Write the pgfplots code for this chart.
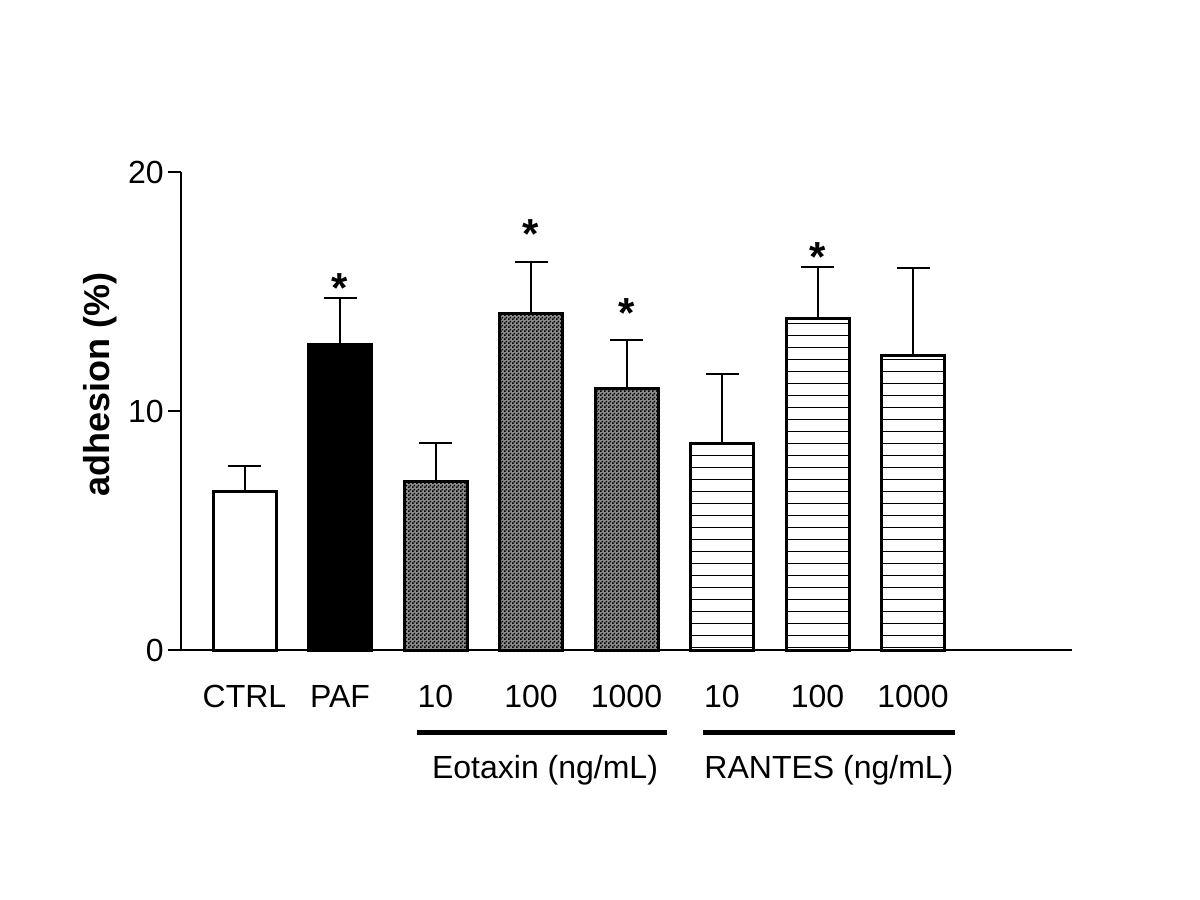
\documentclass[border=0pt]{standalone}
\usepackage{fontspec}
\setmainfont{Liberation Sans}
\usepackage{graphicx}
\usepackage{pgfplots}
\pgfplotsset{compat=1.18}
\usetikzlibrary{patterns,patterns.meta}
\tikzdeclarepattern{
  name=finecheck,
  bounding box={(0,0) and (2pt,2pt)},
  tile size={(2pt,2pt)},
  code={
    \fill (0,0) rectangle (1pt,1pt);
    \fill (1pt,1pt) rectangle (2pt,2pt);
  }
}
\begin{document}
\begin{tikzpicture}
\useasboundingbox (-90.5pt,-125pt) rectangle (509.5pt,325pt);
\begin{axis}[
  at={(0,0)}, anchor=south west,
  scale only axis, width=445.5pt, height=239pt,
  xmin=-0.665, xmax=8.665, ymin=0, ymax=20,
  axis lines*=left,
  axis line style={line width=1pt},
  clip=false,
  font=\fontsize{16}{19}\selectfont,
  /pgf/number format/assume math mode=true,
  xtick={0,1,2,3,4,5,6,7},
  xticklabels={CTRL,PAF,10,100,1000,10,100,1000},
  xtick style={draw=none},
  xticklabel style={anchor=north, inner sep=0pt, yshift=-11pt},
  ytick={0,10,20},
  tick align=outside,
  major tick length=6.5pt,
  ytick style={line width=1pt, black},
  yticklabel style={inner sep=2pt},
  ylabel={\fontsize{18}{21}\selectfont\bfseries adhesion (\%)},
  ylabel style={at={(axis description cs:-0.091,0.555)}, anchor=center, rotate=0},
  error bars/y dir=plus,
  error bars/y explicit,
  error bars/error bar style={line width=1pt, black},
  error bars/error mark options={rotate=90, mark size=8.25pt, line width=1pt, black},
]
% CTRL
\addplot[ybar, bar shift=0pt, bar width=31.5pt, draw=black, line width=1.5pt, fill=white]
  coordinates {(0,6.65) +- (0,1.05)};
% PAF
\addplot[ybar, bar shift=0pt, bar width=31.5pt, draw=black, line width=1.5pt, fill=black]
  coordinates {(1,12.80) +- (0,1.93)};
% Eotaxin
\addplot[ybar, bar shift=0pt, bar width=31.5pt, draw=black, line width=1.5pt, fill=black!45, postaction={pattern=finecheck}]
  coordinates {(2,7.07) +- (0,1.59) (3,14.06) +- (0,2.17) (4,10.96) +- (0,2.01)};
% RANTES
\addplot[ybar, bar shift=0pt, bar width=31.5pt, draw=black, line width=1.5pt, postaction={pattern={Lines[angle=0, distance=6pt, line width=0.5pt]}}, fill=white]
  coordinates {(5,8.62) +- (0,2.93) (6,13.85) +- (0,2.17) (7,12.34) +- (0,3.64)};
% significance stars
\addplot[draw=none, mark=none, nodes near coords, point meta=explicit symbolic,
  nodes near coords style={anchor=base, inner sep=0pt, yshift=-9.8pt, font=\fontsize{21}{21}\selectfont\bfseries}]
  coordinates {(1,15.36) [*] (3,17.62) [*] (4,14.31) [*] (6,16.65) [*]};
% group brackets
\draw[line width=2.5pt] (axis cs:1.806,-3.47) -- (axis cs:4.424,-3.47);
\draw[line width=2.5pt] (axis cs:4.801,-3.47) -- (axis cs:7.44,-3.47);
\node[anchor=base, inner sep=0pt] at (axis cs:3.147,-5.36) {Eotaxin (ng/mL)};
\node[anchor=base, inner sep=0pt] at (axis cs:6.12,-5.36) {RANTES (ng/mL)};
\end{axis}
\end{tikzpicture}
\end{document}
